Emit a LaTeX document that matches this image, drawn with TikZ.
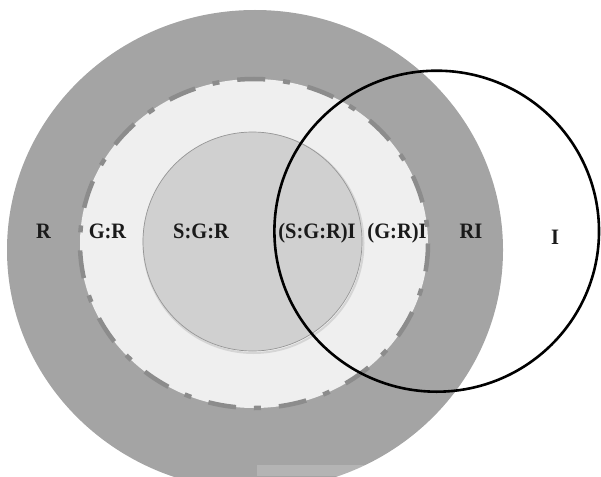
\documentclass[tikz,border=0pt]{standalone}
\usepackage{fontspec}
\setmainfont{Liberation Serif}[FakeStretch=0.93]
\definecolor{outergray}{RGB}{164,164,164}
\definecolor{ringlight}{RGB}{239,239,239}
\definecolor{innergray}{RGB}{208,208,208}
\definecolor{inneredge}{RGB}{150,150,150}
\definecolor{dashgray}{RGB}{140,140,140}
\definecolor{txt}{RGB}{26,26,26}
\begin{document}
\begin{tikzpicture}[x=1pt,y=-1pt,
  lbl/.style={font=\fontsize{22}{26}\selectfont\bfseries, text=txt, inner sep=0pt, anchor=base},
  dashring/.style={draw=dashgray, line width=4.5pt, dash pattern=on 28pt off 18pt on 7pt off 18pt},
  setI/.style={draw=black, line width=2.6pt}]
\useasboundingbox (0,0) rectangle (601,476);
\begin{scope}
  \clip (0,0) rectangle (601,476);
  % outer region R
  \fill[outergray] (255,250) ellipse [x radius=248, y radius=240];
  % G:R region
  \fill[ringlight] (254,243.5) ellipse [x radius=174, y radius=164.5];
  % S:G:R region with soft shadow
  \draw[draw=innergray!80!black, line width=2pt, opacity=0.35] (253.5,243) circle [radius=110];
  \fill[innergray, draw=inneredge, line width=0.7pt] (252.5,241.5) circle [radius=109.5];
  % faint stripe at bottom
  \fill[white, opacity=0.18] (257,465) rectangle (601,476);
\end{scope}
% labels
\node[lbl] (r)    at (43.5,238) {R};
\node[lbl] (gr)   at (107.5,238) {G:R};
\node[lbl] (sgr)  at (201,238) {S:G:R};
\node[lbl] (sgri) at (317,238) {(S:G:R)I};
\node[lbl] (gri)  at (397,238) {(G:R)I};
\node[lbl] (ri)   at (471,238) {RI};
\node[lbl] (i)    at (555,244.5) {I};
% dashed boundary of G:R
\draw[dashring] (254,243.5) ellipse [x radius=174, y radius=164.5];
% set I
\draw[setI] (436.7,231.2) ellipse [x radius=162.3, y radius=160.5];
\end{tikzpicture}
\end{document}
